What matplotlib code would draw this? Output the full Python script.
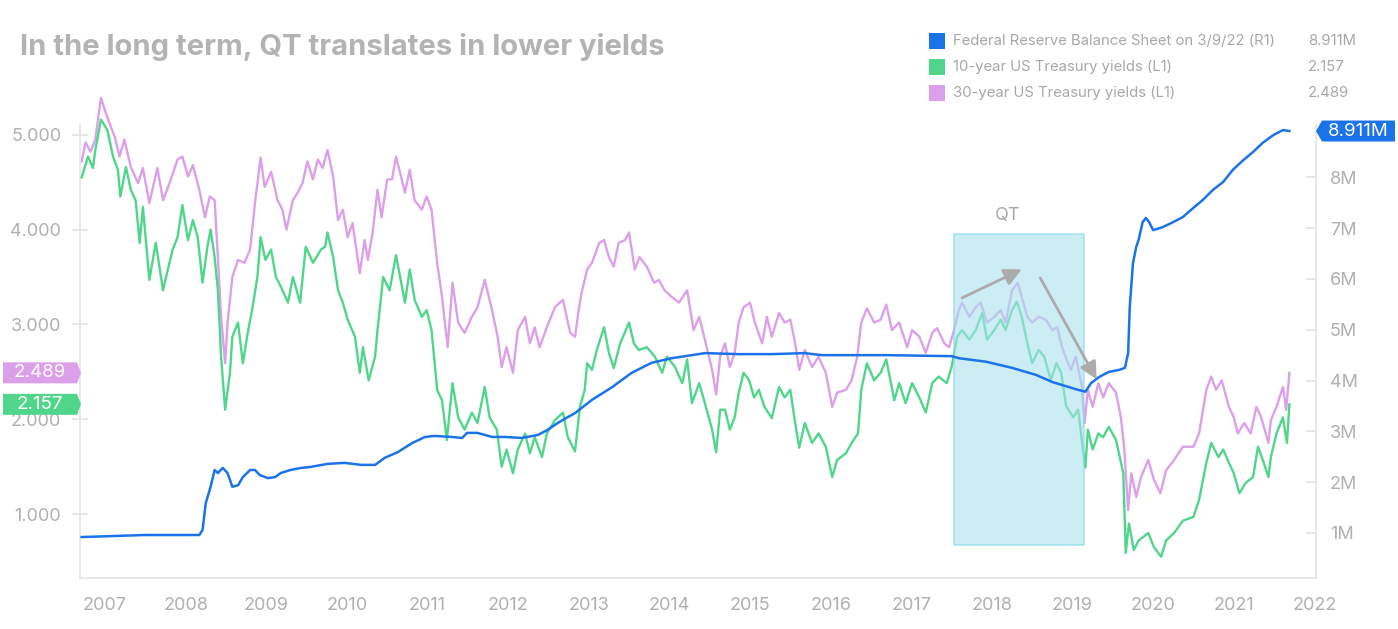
import numpy as np
import matplotlib
matplotlib.use('Agg')
import matplotlib.pyplot as plt
from matplotlib.patches import Rectangle, Polygon

plt.rcParams['font.family'] = ['Inter', 'DejaVu Sans']

# ---- data (decimal years) ----
t_10y = [2007.21, 2007.29, 2007.35, 2007.38, 2007.45, 2007.53, 2007.60, 2007.66, 2007.69, 2007.76,
         2007.82, 2007.88, 2007.93, 2007.97, 2008.05, 2008.13, 2008.22, 2008.28, 2008.34, 2008.40,
         2008.46, 2008.53, 2008.59, 2008.65, 2008.71, 2008.77, 2008.81, 2008.86, 2008.90, 2008.94,
         2008.99, 2009.05, 2009.08, 2009.15, 2009.21, 2009.27, 2009.33, 2009.39, 2009.43, 2009.49,
         2009.56, 2009.62, 2009.68, 2009.77, 2009.83, 2009.92, 2009.99, 2010.08, 2010.18, 2010.23,
         2010.26, 2010.33, 2010.39, 2010.45, 2010.51, 2010.60, 2010.66, 2010.70, 2010.77, 2010.85,
         2010.88, 2010.95, 2011.03, 2011.11, 2011.16, 2011.22, 2011.28, 2011.34, 2011.43, 2011.49,
         2011.55, 2011.62, 2011.68, 2011.74, 2011.81, 2011.88, 2011.96, 2012.05, 2012.12, 2012.21,
         2012.27, 2012.36, 2012.42, 2012.48, 2012.56, 2012.62, 2012.71, 2012.77, 2012.83, 2012.92,
         2012.98, 2013.08, 2013.18, 2013.24, 2013.33, 2013.39, 2013.45, 2013.48, 2013.54, 2013.60,
         2013.69, 2013.75, 2013.81, 2013.89, 2014.00, 2014.06, 2014.12, 2014.22, 2014.32, 2014.41,
         2014.47, 2014.57, 2014.66, 2014.72, 2014.78, 2014.87, 2014.94, 2015.03, 2015.08, 2015.13,
         2015.19, 2015.25, 2015.31, 2015.36, 2015.42, 2015.49, 2015.55, 2015.61, 2015.68, 2015.77,
         2015.86, 2015.93, 2016.00, 2016.06, 2016.11, 2016.18, 2016.27, 2016.35, 2016.44, 2016.52,
         2016.58, 2016.69, 2016.76, 2016.84, 2016.88, 2016.95, 2017.04, 2017.12, 2017.19, 2017.29,
         2017.35, 2017.43, 2017.51, 2017.60, 2017.68, 2017.76, 2017.84, 2017.94, 2018.00, 2018.07,
         2018.13, 2018.22, 2018.30, 2018.38, 2018.44, 2018.53, 2018.61, 2018.67, 2018.75, 2018.81,
         2018.87, 2018.94, 2019.00, 2019.08, 2019.15, 2019.23, 2019.30, 2019.36, 2019.42, 2019.51,
         2019.57, 2019.63, 2019.66, 2019.69, 2019.75, 2019.82, 2019.88, 2019.95, 2020.04, 2020.13,
         2020.16, 2020.20, 2020.26, 2020.32, 2020.44, 2020.51, 2020.60, 2020.66, 2020.76, 2020.87,
         2021.00, 2021.07, 2021.16, 2021.22, 2021.31, 2021.37, 2021.44, 2021.50, 2021.57, 2021.65,
         2021.74, 2021.80, 2021.86, 2021.93, 2021.96, 2022.03, 2022.11, 2022.16, 2022.19]
v_10y = [4.55, 4.77, 4.65, 4.84, 5.16, 5.05, 4.77, 4.63, 4.35, 4.66,
         4.42, 4.31, 3.86, 4.24, 3.47, 3.86, 3.36, 3.58, 3.79, 3.92,
         4.26, 3.89, 4.10, 3.92, 3.44, 3.82, 4.00, 3.71, 3.36, 2.66,
         2.10, 2.49, 2.87, 3.02, 2.59, 2.91, 3.18, 3.50, 3.92, 3.68,
         3.79, 3.50, 3.40, 3.23, 3.50, 3.23, 3.82, 3.65, 3.79, 3.82,
         3.97, 3.71, 3.36, 3.23, 3.05, 2.87, 2.49, 2.76, 2.41, 2.66,
         2.94, 3.50, 3.36, 3.73, 3.50, 3.23, 3.58, 3.26, 3.08, 3.15,
         2.94, 2.31, 2.20, 1.78, 2.38, 2.02, 1.89, 2.07, 1.96, 2.34,
         2.02, 1.89, 1.50, 1.68, 1.43, 1.68, 1.85, 1.64, 1.81, 1.60,
         1.85, 1.99, 2.07, 1.81, 1.66, 2.13, 2.31, 2.59, 2.52, 2.73,
         2.97, 2.70, 2.54, 2.80, 3.02, 2.80, 2.73, 2.76, 2.66, 2.49,
         2.66, 2.55, 2.38, 2.63, 2.17, 2.38, 2.17, 1.89, 1.65, 2.10,
         2.10, 1.89, 2.02, 2.28, 2.49, 2.41, 2.23, 2.31, 2.13, 2.01,
         2.34, 2.23, 2.31, 1.96, 1.70, 1.96, 1.75, 1.85, 1.71, 1.39,
         1.57, 1.64, 1.75, 1.85, 2.31, 2.59, 2.41, 2.49, 2.63, 2.20,
         2.38, 2.17, 2.38, 2.23, 2.07, 2.38, 2.45, 2.38, 2.55, 2.87,
         2.94, 2.84, 2.94, 3.12, 2.84, 2.94, 3.05, 2.94, 3.15, 3.24,
         3.08, 2.80, 2.59, 2.73, 2.66, 2.41, 2.59, 2.49, 2.14, 2.02,
         2.10, 1.68, 1.49, 1.89, 1.68, 1.85, 1.81, 1.92, 1.78, 1.43,
         0.59, 0.90, 0.62, 0.72, 0.80, 0.65, 0.55, 0.72, 0.80, 0.93,
         0.97, 1.15, 1.54, 1.75, 1.60, 1.68, 1.54, 1.43, 1.22, 1.33,
         1.39, 1.71, 1.57, 1.39, 1.60, 1.85, 2.02, 1.75, 2.157]

t_30y = [2007.21, 2007.26, 2007.32, 2007.38, 2007.45, 2007.51, 2007.57, 2007.62, 2007.68, 2007.74,
         2007.82, 2007.91, 2007.97, 2008.05, 2008.15, 2008.22, 2008.30, 2008.40, 2008.46, 2008.53,
         2008.59, 2008.67, 2008.74, 2008.80, 2008.86, 2008.90, 2008.94, 2008.99, 2009.02, 2009.08,
         2009.15, 2009.23, 2009.30, 2009.36, 2009.43, 2009.48, 2009.56, 2009.64, 2009.70, 2009.75,
         2009.83, 2009.89, 2009.95, 2010.01, 2010.08, 2010.14, 2010.20, 2010.26, 2010.33, 2010.39,
         2010.45, 2010.51, 2010.57, 2010.66, 2010.72, 2010.76, 2010.82, 2010.88, 2010.93, 2011.00,
         2011.06, 2011.11, 2011.16, 2011.22, 2011.28, 2011.34, 2011.43, 2011.49, 2011.55, 2011.62,
         2011.68, 2011.75, 2011.81, 2011.88, 2011.96, 2012.05, 2012.12, 2012.21, 2012.30, 2012.37,
         2012.42, 2012.48, 2012.56, 2012.62, 2012.71, 2012.77, 2012.83, 2012.89, 2012.98, 2013.08,
         2013.18, 2013.27, 2013.33, 2013.38, 2013.41, 2013.48, 2013.54, 2013.63, 2013.69, 2013.75,
         2013.81, 2013.87, 2013.95, 2014.00, 2014.07, 2014.13, 2014.22, 2014.31, 2014.37, 2014.44,
         2014.53, 2014.62, 2014.72, 2014.80, 2014.87, 2014.94, 2015.03, 2015.08, 2015.13, 2015.19,
         2015.25, 2015.31, 2015.36, 2015.42, 2015.50, 2015.56, 2015.65, 2015.71, 2015.77, 2015.86,
         2015.93, 2016.00, 2016.06, 2016.11, 2016.18, 2016.27, 2016.35, 2016.44, 2016.52, 2016.58,
         2016.69, 2016.76, 2016.83, 2016.88, 2016.95, 2017.04, 2017.12, 2017.19, 2017.26, 2017.35,
         2017.45, 2017.51, 2017.60, 2017.68, 2017.76, 2017.82, 2017.91, 2017.97, 2018.03, 2018.09,
         2018.13, 2018.22, 2018.30, 2018.36, 2018.44, 2018.53, 2018.61, 2018.67, 2018.75, 2018.82,
         2018.87, 2018.94, 2019.00, 2019.08, 2019.17, 2019.25, 2019.31, 2019.37, 2019.43, 2019.48,
         2019.54, 2019.61, 2019.65, 2019.69, 2019.75, 2019.82, 2019.88, 2019.95, 2020.04, 2020.10,
         2020.14, 2020.19, 2020.23, 2020.29, 2020.35, 2020.44, 2020.51, 2020.59, 2020.66, 2020.76,
         2020.87, 2021.00, 2021.07, 2021.16, 2021.22, 2021.28, 2021.35, 2021.44, 2021.50, 2021.55,
         2021.63, 2021.71, 2021.78, 2021.84, 2021.93, 2021.96, 2022.03, 2022.11, 2022.15, 2022.19]
v_30y = [4.72, 4.92, 4.82, 4.95, 5.39, 5.23, 5.09, 4.98, 4.77, 4.95,
         4.66, 4.49, 4.65, 4.28, 4.65, 4.31, 4.49, 4.74, 4.77, 4.56,
         4.68, 4.42, 4.13, 4.35, 4.31, 3.71, 3.08, 2.59, 3.02, 3.50,
         3.68, 3.65, 3.79, 4.28, 4.76, 4.45, 4.61, 4.31, 4.21, 4.00,
         4.31, 4.39, 4.49, 4.72, 4.53, 4.74, 4.65, 4.84, 4.56, 4.10,
         4.21, 3.92, 4.07, 3.54, 3.89, 3.68, 3.97, 4.42, 4.13, 4.53,
         4.53, 4.77, 4.60, 4.39, 4.63, 4.31, 4.21, 4.35, 4.21, 3.65,
         3.29, 2.76, 3.44, 3.02, 2.91, 3.08, 3.18, 3.47, 3.15, 2.87,
         2.55, 2.76, 2.49, 2.94, 3.08, 2.80, 2.97, 2.76, 2.97, 3.18,
         3.26, 2.91, 2.87, 3.18, 3.33, 3.58, 3.65, 3.86, 3.89, 3.71,
         3.61, 3.86, 3.89, 3.97, 3.58, 3.71, 3.61, 3.44, 3.47, 3.36,
         3.29, 3.23, 3.36, 2.94, 3.08, 2.84, 2.52, 2.26, 2.66, 2.80,
         2.55, 2.70, 3.02, 3.18, 3.23, 3.02, 2.80, 3.08, 2.87, 3.12,
         3.02, 3.05, 2.80, 2.52, 2.73, 2.55, 2.66, 2.49, 2.13, 2.28,
         2.31, 2.41, 2.66, 3.02, 3.17, 3.02, 3.05, 3.21, 2.94, 3.02,
         2.76, 2.94, 2.87, 2.70, 2.91, 2.96, 2.80, 2.76, 2.94, 3.15,
         3.23, 3.08, 3.18, 3.23, 3.02, 3.08, 3.15, 3.02, 3.36, 3.44,
         3.29, 3.08, 3.02, 3.08, 3.05, 2.94, 2.97, 2.76, 2.62, 2.52,
         2.66, 2.38, 1.96, 2.31, 2.13, 2.38, 2.23, 2.38, 2.28, 2.02,
         1.71, 1.04, 1.43, 1.18, 1.39, 1.57, 1.36, 1.22, 1.46, 1.57,
         1.71, 1.71, 1.85, 2.31, 2.45, 2.31, 2.41, 2.13, 2.02, 1.85,
         1.96, 1.85, 2.13, 2.02, 1.75, 1.99, 2.13, 2.34, 2.10, 2.489]

t_fed = [2007.21, 2007.99, 2008.67, 2008.71, 2008.75, 2008.81, 2008.86, 2008.90, 2008.96, 2009.02,
         2009.08, 2009.15, 2009.21, 2009.30, 2009.36, 2009.42, 2009.52, 2009.61, 2009.68, 2009.80,
         2009.93, 2010.05, 2010.26, 2010.47, 2010.68, 2010.85, 2010.97, 2011.13, 2011.31, 2011.47,
         2011.59, 2011.80, 2011.93, 2011.99, 2012.12, 2012.30, 2012.46, 2012.67, 2012.87, 2012.99,
         2013.12, 2013.24, 2013.33, 2013.54, 2013.79, 2014.03, 2014.28, 2014.53, 2014.78, 2014.94,
         2015.36, 2015.77, 2016.18, 2016.39, 2017.19, 2018.00, 2018.09, 2018.43, 2018.75, 2019.05,
         2019.25, 2019.46, 2019.54, 2019.66, 2019.73, 2019.83, 2019.95, 2020.08, 2020.15, 2020.19,
         2020.21, 2020.25, 2020.29, 2020.32, 2020.37, 2020.41, 2020.45, 2020.50, 2020.62, 2020.75,
         2020.87, 2021.00, 2021.12, 2021.24, 2021.37, 2021.49, 2021.62, 2021.74, 2021.86, 2021.99,
         2022.11, 2022.19]
v_fed = [0.92, 0.96, 0.96, 1.06, 1.59, 1.91, 2.24, 2.18, 2.28, 2.18,
         1.91, 1.94, 2.10, 2.24, 2.24, 2.14, 2.08, 2.10, 2.18, 2.24,
         2.28, 2.30, 2.36, 2.38, 2.34, 2.34, 2.48, 2.59, 2.77, 2.89,
         2.91, 2.89, 2.87, 2.97, 2.97, 2.89, 2.89, 2.87, 2.93, 3.03,
         3.17, 3.28, 3.36, 3.62, 3.87, 4.15, 4.35, 4.44, 4.50, 4.54,
         4.52, 4.52, 4.54, 4.50, 4.50, 4.48, 4.44, 4.37, 4.25, 4.11,
         3.97, 3.87, 3.83, 3.78, 3.95, 4.07, 4.17, 4.21, 4.25, 4.54,
         5.45, 6.31, 6.63, 6.77, 7.12, 7.20, 7.12, 6.96, 7.02, 7.12,
         7.22, 7.40, 7.56, 7.75, 7.91, 8.15, 8.34, 8.50, 8.68, 8.83,
         8.93, 8.911]

years = list(range(2007, 2023))
left_ticks = [1, 2, 3, 4, 5]
right_ticks = [1, 2, 3, 4, 5, 6, 7, 8]
qt_start, qt_end = 2018.03, 2019.64

labels = ['Federal Reserve Balance Sheet on 3/9/22 (R1)', '10-year US Treasury yields (L1)',
          '30-year US Treasury yields (L1)']
last_vals = ['8.911M', '2.157', '2.489']

BLUE = '#1a73e8'
GREEN = '#50d68a'
PURPLE = '#dca0eb'
GREY = '#b0b0b0'
AXIS = '#e4e4e4'

fig = plt.figure(figsize=(13.98, 6.29), dpi=100)
ax = fig.add_axes([80/1398, 51/629, 1236/1398, 483/629])
ax2 = ax.twinx()

ax.plot(t_30y, v_30y, color=PURPLE, lw=1.7, zorder=2)
ax.plot(t_10y, v_10y, color=GREEN, lw=1.7, zorder=3)
ax2.plot(t_fed, v_fed, color=BLUE, lw=1.8, zorder=3)

ax.set_xlim(2007.19, 2022.52)
ax.set_ylim(0.325, 5.42)
ax2.set_ylim(0.114, 9.62)

# QT shaded box
ax.add_patch(Rectangle((qt_start, 0.673), qt_end - qt_start, 3.955 - 0.673,
                       facecolor='#aae1ed', edgecolor='#7fd6e6', alpha=0.6, lw=1.2, zorder=4))
ax.text(2018.70, 4.06, 'QT', ha='center', va='bottom', fontsize=13, color='#a8a8a8')

arrow_kw = dict(arrowstyle='-|>', color='#ababab', lw=2, mutation_scale=26, shrinkA=0, shrinkB=0)
ax2.annotate('', xy=(2018.87, 3.58), xytext=(2018.13, 3.28), xycoords=ax.transData,
             textcoords=ax.transData, arrowprops=arrow_kw, zorder=6)
ax2.annotate('', xy=(2019.80, 2.42), xytext=(2019.10, 3.49), xycoords=ax.transData,
             textcoords=ax.transData, arrowprops=arrow_kw, zorder=6)

# axes styling
for a in (ax, ax2):
    a.spines['top'].set_visible(False)
    a.set_facecolor('none')
ax.spines['right'].set_visible(False)
ax2.spines['left'].set_visible(False)
ax2.spines['bottom'].set_visible(False)
ax.spines['left'].set_color(AXIS)
ax.spines['bottom'].set_color(AXIS)
ax2.spines['right'].set_color(AXIS)
ax.spines['left'].set_bounds(0.325, 5.106)
ax2.spines['right'].set_bounds(0.114, 9.03)
ax.spines['left'].set_linewidth(1.2)
ax.spines['bottom'].set_linewidth(1.2)
ax2.spines['right'].set_linewidth(1.2)

ax.set_xticks([y + 0.5 for y in years])
ax.set_xticklabels([str(y) for y in years])
ax.tick_params(axis='x', length=0, pad=14, labelsize=13, labelcolor=GREY)
ax.set_yticks(left_ticks)
ax.set_yticklabels(['%.3f' % v for v in left_ticks])
ax.tick_params(axis='y', direction='inout', length=11, color=AXIS, width=1.2,
               labelsize=13, labelcolor=GREY, pad=8)
ax2.set_yticks(right_ticks)
ax2.set_yticklabels(['%dM' % v for v in right_ticks])
ax2.tick_params(axis='y', direction='in', length=7, color=AXIS, width=1.2,
                labelsize=13, labelcolor=GREY, pad=10)

# title
fig.text(20/1398, 1 - 47/629, 'In the long term, QT translates in lower yields', fontsize=21,
         fontweight='bold', color='#b3b3b3', va='center', ha='left')

# legend
for i, (lab, val, col) in enumerate(zip(labels, last_vals, [BLUE, GREEN, PURPLE])):
    yc = 629 - (41 + 26 * i)
    fig.patches.append(Rectangle((929/1398, (yc - 8)/629), 16/1398, 16/629, facecolor=col,
                                 edgecolor='none', transform=fig.transFigure, figure=fig))
    fig.text(953/1398, yc/629, lab, fontsize=10.7, color='#a8a8a8', va='center', ha='left')
    fig.text(1308/1398, yc/629, val, fontsize=10.7, color='#a8a8a8', va='center', ha='left')

# value tags on the axes
fig.canvas.draw()
H = 629


def tag(ypix, text, col, side):
    h = 10.5
    if side == 'left':
        pts = [(3, ypix - h), (77, ypix - h), (81, ypix), (77, ypix + h), (3, ypix + h)]
        tx = 40
    else:
        pts = [(1322, ypix - h), (1395, ypix - h), (1395, ypix + h), (1322, ypix + h), (1316, ypix)]
        tx = 1358
    poly = Polygon([(x / 1398, y / H) for x, y in pts], closed=True, facecolor=col,
                   edgecolor='none', transform=fig.transFigure, figure=fig)
    fig.patches.append(poly)
    fig.text(tx / 1398, ypix / H, text, color='white', fontsize=13.5, ha='center', va='center')


y_p = ax.transData.transform((2010, v_30y[-1]))[1]
y_g = ax.transData.transform((2010, v_10y[-1]))[1]
y_b = ax2.transData.transform((2010, v_fed[-1]))[1]
tag(y_p, last_vals[2], PURPLE, 'left')
tag(y_g, last_vals[1], GREEN, 'left')
tag(y_b, last_vals[0], BLUE, 'right')

fig.savefig('out.png', dpi=100)
